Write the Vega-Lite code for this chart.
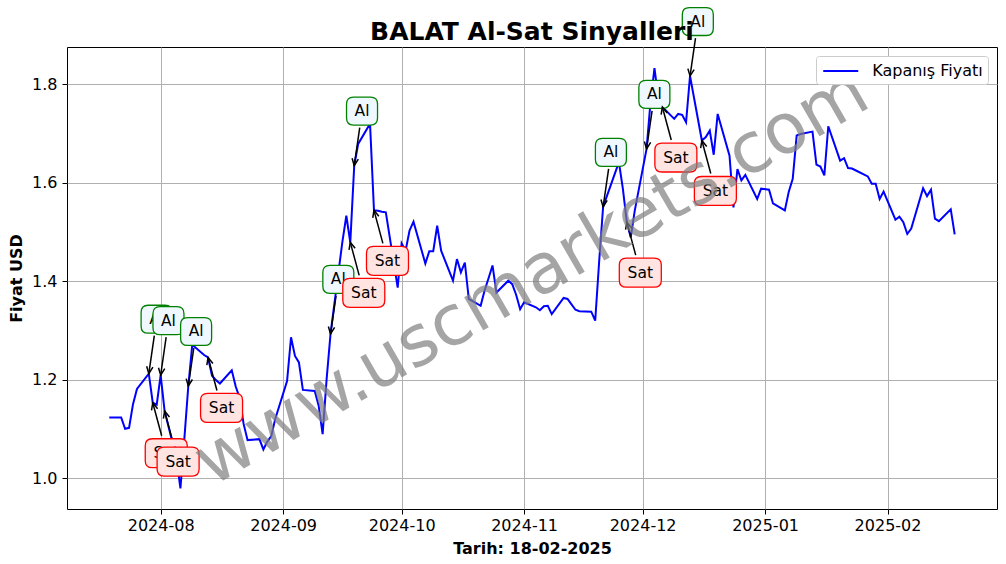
{
  "$schema": "https://vega.github.io/schema/vega-lite/v6.json",
  "width": 930,
  "height": 462,
  "autosize": {"type": "none"},
  "padding": {"left": 67, "top": 47, "right": 9, "bottom": 55},
  "background": "white",
  "title": {"text": "BALAT Al-Sat Sinyalleri", "anchor": "middle", "frame": "group", "fontSize": 25, "fontWeight": "bold", "font": "DejaVu Sans", "color": "black", "offset": -60, "baseline": "alphabetic"},
  "config": {
    "font": "DejaVu Sans",
    "view": {"stroke": "black", "strokeWidth": 1},
    "axis": {"domain": false, "grid": true, "gridColor": "#b0b0b0", "gridWidth": 1, "tickColor": "black", "tickSize": 5, "tickWidth": 1, "labelFontSize": 16, "labelColor": "black", "titleFontSize": 16, "titleFontWeight": "bold", "titleColor": "black", "labelFont": "DejaVu Sans", "titleFont": "DejaVu Sans"}
  },
  "datasets": {
    "prices": [
      {"date": "2024-07-19", "close": 1.123},
      {"date": "2024-07-22", "close": 1.123},
      {"date": "2024-07-23", "close": 1.100},
      {"date": "2024-07-24", "close": 1.102},
      {"date": "2024-07-25", "close": 1.150},
      {"date": "2024-07-26", "close": 1.181},
      {"date": "2024-07-29", "close": 1.212},
      {"date": "2024-07-30", "close": 1.153},
      {"date": "2024-07-31", "close": 1.149},
      {"date": "2024-08-01", "close": 1.209},
      {"date": "2024-08-02", "close": 1.136},
      {"date": "2024-08-05", "close": 1.040},
      {"date": "2024-08-06", "close": 0.979},
      {"date": "2024-08-07", "close": 1.080},
      {"date": "2024-08-08", "close": 1.187},
      {"date": "2024-08-09", "close": 1.271},
      {"date": "2024-08-12", "close": 1.250},
      {"date": "2024-08-13", "close": 1.245},
      {"date": "2024-08-14", "close": 1.208},
      {"date": "2024-08-15", "close": 1.199},
      {"date": "2024-08-16", "close": 1.192},
      {"date": "2024-08-19", "close": 1.219},
      {"date": "2024-08-20", "close": 1.186},
      {"date": "2024-08-21", "close": 1.163},
      {"date": "2024-08-22", "close": 1.110},
      {"date": "2024-08-23", "close": 1.077},
      {"date": "2024-08-26", "close": 1.079},
      {"date": "2024-08-27", "close": 1.058},
      {"date": "2024-08-28", "close": 1.074},
      {"date": "2024-08-29", "close": 1.085},
      {"date": "2024-08-30", "close": 1.120},
      {"date": "2024-09-02", "close": 1.197},
      {"date": "2024-09-03", "close": 1.286},
      {"date": "2024-09-04", "close": 1.248},
      {"date": "2024-09-05", "close": 1.235},
      {"date": "2024-09-06", "close": 1.179},
      {"date": "2024-09-09", "close": 1.177},
      {"date": "2024-09-10", "close": 1.147},
      {"date": "2024-09-11", "close": 1.089},
      {"date": "2024-09-12", "close": 1.200},
      {"date": "2024-09-13", "close": 1.293},
      {"date": "2024-09-16", "close": 1.480},
      {"date": "2024-09-17", "close": 1.533},
      {"date": "2024-09-18", "close": 1.479},
      {"date": "2024-09-19", "close": 1.635},
      {"date": "2024-09-20", "close": 1.679},
      {"date": "2024-09-23", "close": 1.720},
      {"date": "2024-09-24", "close": 1.544},
      {"date": "2024-09-25", "close": 1.543},
      {"date": "2024-09-26", "close": 1.541},
      {"date": "2024-09-27", "close": 1.540},
      {"date": "2024-09-30", "close": 1.387},
      {"date": "2024-10-01", "close": 1.477},
      {"date": "2024-10-02", "close": 1.462},
      {"date": "2024-10-03", "close": 1.503},
      {"date": "2024-10-04", "close": 1.521},
      {"date": "2024-10-07", "close": 1.436},
      {"date": "2024-10-08", "close": 1.461},
      {"date": "2024-10-09", "close": 1.461},
      {"date": "2024-10-10", "close": 1.513},
      {"date": "2024-10-11", "close": 1.462},
      {"date": "2024-10-14", "close": 1.401},
      {"date": "2024-10-15", "close": 1.445},
      {"date": "2024-10-16", "close": 1.418},
      {"date": "2024-10-17", "close": 1.438},
      {"date": "2024-10-18", "close": 1.364},
      {"date": "2024-10-21", "close": 1.350},
      {"date": "2024-10-22", "close": 1.381},
      {"date": "2024-10-23", "close": 1.406},
      {"date": "2024-10-24", "close": 1.432},
      {"date": "2024-10-25", "close": 1.377},
      {"date": "2024-10-28", "close": 1.401},
      {"date": "2024-10-29", "close": 1.394},
      {"date": "2024-10-30", "close": 1.372},
      {"date": "2024-10-31", "close": 1.343},
      {"date": "2024-11-01", "close": 1.357},
      {"date": "2024-11-04", "close": 1.347},
      {"date": "2024-11-05", "close": 1.341},
      {"date": "2024-11-06", "close": 1.349},
      {"date": "2024-11-07", "close": 1.350},
      {"date": "2024-11-08", "close": 1.333},
      {"date": "2024-11-11", "close": 1.366},
      {"date": "2024-11-12", "close": 1.364},
      {"date": "2024-11-13", "close": 1.353},
      {"date": "2024-11-14", "close": 1.342},
      {"date": "2024-11-15", "close": 1.339},
      {"date": "2024-11-18", "close": 1.338},
      {"date": "2024-11-19", "close": 1.320},
      {"date": "2024-11-20", "close": 1.440},
      {"date": "2024-11-21", "close": 1.551},
      {"date": "2024-11-22", "close": 1.574},
      {"date": "2024-11-25", "close": 1.642},
      {"date": "2024-11-26", "close": 1.588},
      {"date": "2024-11-27", "close": 1.520},
      {"date": "2024-11-28", "close": 1.489},
      {"date": "2024-11-29", "close": 1.543},
      {"date": "2024-12-02", "close": 1.669},
      {"date": "2024-12-03", "close": 1.764},
      {"date": "2024-12-04", "close": 1.833},
      {"date": "2024-12-05", "close": 1.771},
      {"date": "2024-12-06", "close": 1.754},
      {"date": "2024-12-09", "close": 1.730},
      {"date": "2024-12-10", "close": 1.740},
      {"date": "2024-12-11", "close": 1.738},
      {"date": "2024-12-12", "close": 1.723},
      {"date": "2024-12-13", "close": 1.817},
      {"date": "2024-12-16", "close": 1.686},
      {"date": "2024-12-17", "close": 1.693},
      {"date": "2024-12-18", "close": 1.706},
      {"date": "2024-12-19", "close": 1.657},
      {"date": "2024-12-20", "close": 1.740},
      {"date": "2024-12-23", "close": 1.655},
      {"date": "2024-12-24", "close": 1.550},
      {"date": "2024-12-25", "close": 1.628},
      {"date": "2024-12-26", "close": 1.605},
      {"date": "2024-12-27", "close": 1.616},
      {"date": "2024-12-30", "close": 1.567},
      {"date": "2024-12-31", "close": 1.588},
      {"date": "2025-01-02", "close": 1.586},
      {"date": "2025-01-03", "close": 1.558},
      {"date": "2025-01-06", "close": 1.544},
      {"date": "2025-01-07", "close": 1.582},
      {"date": "2025-01-08", "close": 1.608},
      {"date": "2025-01-09", "close": 1.696},
      {"date": "2025-01-10", "close": 1.699},
      {"date": "2025-01-13", "close": 1.704},
      {"date": "2025-01-14", "close": 1.637},
      {"date": "2025-01-15", "close": 1.633},
      {"date": "2025-01-16", "close": 1.615},
      {"date": "2025-01-17", "close": 1.715},
      {"date": "2025-01-20", "close": 1.645},
      {"date": "2025-01-21", "close": 1.650},
      {"date": "2025-01-22", "close": 1.630},
      {"date": "2025-01-23", "close": 1.629},
      {"date": "2025-01-24", "close": 1.625},
      {"date": "2025-01-27", "close": 1.613},
      {"date": "2025-01-28", "close": 1.598},
      {"date": "2025-01-29", "close": 1.598},
      {"date": "2025-01-30", "close": 1.567},
      {"date": "2025-01-31", "close": 1.582},
      {"date": "2025-02-03", "close": 1.525},
      {"date": "2025-02-04", "close": 1.531},
      {"date": "2025-02-05", "close": 1.520},
      {"date": "2025-02-06", "close": 1.496},
      {"date": "2025-02-07", "close": 1.507},
      {"date": "2025-02-10", "close": 1.589},
      {"date": "2025-02-11", "close": 1.573},
      {"date": "2025-02-12", "close": 1.586},
      {"date": "2025-02-13", "close": 1.527},
      {"date": "2025-02-14", "close": 1.522},
      {"date": "2025-02-17", "close": 1.546},
      {"date": "2025-02-18", "close": 1.495}
    ],
    "signals": [
      {"date": "2024-07-29", "close": 1.212, "signal": "Al"},
      {"date": "2024-07-30", "close": 1.153, "signal": "Sat"},
      {"date": "2024-08-01", "close": 1.209, "signal": "Al"},
      {"date": "2024-08-02", "close": 1.136, "signal": "Sat"},
      {"date": "2024-08-08", "close": 1.187, "signal": "Al"},
      {"date": "2024-08-13", "close": 1.245, "signal": "Sat"},
      {"date": "2024-09-13", "close": 1.293, "signal": "Al"},
      {"date": "2024-09-18", "close": 1.479, "signal": "Sat"},
      {"date": "2024-09-19", "close": 1.635, "signal": "Al"},
      {"date": "2024-09-24", "close": 1.544, "signal": "Sat"},
      {"date": "2024-11-21", "close": 1.551, "signal": "Al"},
      {"date": "2024-11-27", "close": 1.520, "signal": "Sat"},
      {"date": "2024-12-02", "close": 1.669, "signal": "Al"},
      {"date": "2024-12-06", "close": 1.754, "signal": "Sat"},
      {"date": "2024-12-13", "close": 1.817, "signal": "Al"},
      {"date": "2024-12-16", "close": 1.686, "signal": "Sat"}
    ],
    "watermark": [{"label": "www.uscmarkets.com"}]
  },
  "layer": [
    {
      "encoding": {
        "x": {"field": "date", "type": "temporal",
          "scale": {"type": "utc", "domain": [{"year": 2024, "month": 7, "date": 8, "hours": 7, "utc": true}, {"year": 2025, "month": 2, "date": 28, "hours": 17, "utc": true}]},
          "axis": {"title": "Tarih: 18-02-2025", "labelExpr": "utcFormat(datum.value, '%Y-%m')", "labelPadding": 3, "titlePadding": 7,
            "values": [
              {"year": 2024, "month": 8, "date": 1, "utc": true},
              {"year": 2024, "month": 9, "date": 1, "utc": true},
              {"year": 2024, "month": 10, "date": 1, "utc": true},
              {"year": 2024, "month": 11, "date": 1, "utc": true},
              {"year": 2024, "month": 12, "date": 1, "utc": true},
              {"year": 2025, "month": 1, "date": 1, "utc": true},
              {"year": 2025, "month": 2, "date": 1, "utc": true}
            ]}},
        "y": {"field": "close", "type": "quantitative",
          "scale": {"domain": [0.937, 1.876], "nice": false, "zero": false},
          "axis": {"title": "Fiyat USD", "values": [1.0, 1.2, 1.4, 1.6, 1.8], "format": ".1f", "labelPadding": 5, "titlePadding": 7}}
      },
      "layer": [
        {
          "data": {"name": "prices"},
          "mark": {"type": "line", "strokeWidth": 2},
          "encoding": {
            "color": {"datum": "Kapanış Fiyatı", "type": "nominal",
              "scale": {"range": ["blue"]},
              "legend": {"title": null, "orient": "top-right", "offset": 9, "padding": 5, "fillColor": "white", "strokeColor": "#cccccc", "cornerRadius": 3, "labelFontSize": 16, "labelColor": "black", "labelFont": "DejaVu Sans", "symbolType": "M -2 0 L 2 0", "symbolSize": 306, "symbolStrokeWidth": 2, "symbolOffset": 9.75, "labelOffset": 21.5}}
          }
        },
        {
          "data": {"name": "signals"},
          "transform": [{"filter": "datum.signal == 'Al'"}],
          "mark": {"type": "rule", "color": "black", "strokeWidth": 1.5, "x2Offset": 5.5, "y2Offset": -38},
          "encoding": {"x2": {"field": "date"}, "y2": {"field": "close"}}
        },
        {
          "data": {"name": "signals"},
          "transform": [{"filter": "datum.signal == 'Al'"}],
          "mark": {"type": "point", "shape": "M -0.45 -1 L 0 0 L 0.45 -1", "size": 196, "filled": false, "stroke": "black", "strokeWidth": 1.5, "opacity": 1, "angle": 8}
        },
        {
          "data": {"name": "signals"},
          "transform": [{"filter": "datum.signal == 'Al'"}, {"filter": {"field": "date", "lt": {"year": 2024, "month": 7, "date": 31}}}],
          "mark": {"type": "point", "shape": "M -0.55 -0.9 L 0.55 -0.9 Q 1 -0.9 1 -0.45 L 1 0.45 Q 1 0.9 0.55 0.9 L -0.55 0.9 Q -1 0.9 -1 0.45 L -1 -0.45 Q -1 -0.9 -0.55 -0.9 Z", "size": 961, "filled": true, "fill": "#f0f8ff", "stroke": "green", "strokeWidth": 1.3, "opacity": 1, "fillOpacity": 1, "xOffset": 7.8, "yOffset": -54.5}
        },
        {
          "data": {"name": "signals"},
          "transform": [{"filter": "datum.signal == 'Al'"}, {"filter": {"field": "date", "lt": {"year": 2024, "month": 7, "date": 31}}}],
          "mark": {"type": "text", "fontSize": 15.5, "color": "black", "align": "center", "baseline": "middle", "dx": 7.8, "dy": -54.5},
          "encoding": {"text": {"field": "signal"}}
        },
        {
          "data": {"name": "signals"},
          "transform": [{"filter": "datum.signal == 'Al'"}, {"filter": {"field": "date", "gte": {"year": 2024, "month": 7, "date": 31}}}],
          "mark": {"type": "point", "shape": "M -0.55 -0.9 L 0.55 -0.9 Q 1 -0.9 1 -0.45 L 1 0.45 Q 1 0.9 0.55 0.9 L -0.55 0.9 Q -1 0.9 -1 0.45 L -1 -0.45 Q -1 -0.9 -0.55 -0.9 Z", "size": 961, "filled": true, "fill": "#f0f8ff", "stroke": "green", "strokeWidth": 1.3, "opacity": 1, "fillOpacity": 1, "xOffset": 7.8, "yOffset": -54.5}
        },
        {
          "data": {"name": "signals"},
          "transform": [{"filter": "datum.signal == 'Al'"}, {"filter": {"field": "date", "gte": {"year": 2024, "month": 7, "date": 31}}}],
          "mark": {"type": "text", "fontSize": 15.5, "color": "black", "align": "center", "baseline": "middle", "dx": 7.8, "dy": -54.5},
          "encoding": {"text": {"field": "signal"}}
        },
        {
          "data": {"name": "signals"},
          "transform": [{"filter": "datum.signal == 'Sat'"}],
          "mark": {"type": "rule", "color": "black", "strokeWidth": 1.5, "x2Offset": 8.9, "y2Offset": 33},
          "encoding": {"x2": {"field": "date"}, "y2": {"field": "close"}}
        },
        {
          "data": {"name": "signals"},
          "transform": [{"filter": "datum.signal == 'Sat'"}],
          "mark": {"type": "point", "shape": "M -0.45 1 L 0 0 L 0.45 1", "size": 196, "filled": false, "stroke": "black", "strokeWidth": 1.5, "opacity": 1, "angle": -15}
        },
        {
          "data": {"name": "signals"},
          "transform": [{"filter": "datum.signal == 'Sat'"}, {"filter": {"field": "date", "lt": {"year": 2024, "month": 7, "date": 31}}}],
          "mark": {"type": "point", "shape": "M -0.667 -0.69 L 0.667 -0.69 Q 1 -0.69 1 -0.357 L 1 0.357 Q 1 0.69 0.667 0.69 L -0.667 0.69 Q -1 0.69 -1 0.357 L -1 -0.357 Q -1 -0.69 -0.667 -0.69 Z", "size": 1764, "filled": true, "fill": "#ffe4e1", "stroke": "red", "strokeWidth": 1.3, "opacity": 1, "fillOpacity": 1, "xOffset": 13.5, "yOffset": 50.5}
        },
        {
          "data": {"name": "signals"},
          "transform": [{"filter": "datum.signal == 'Sat'"}, {"filter": {"field": "date", "lt": {"year": 2024, "month": 7, "date": 31}}}],
          "mark": {"type": "text", "fontSize": 15.5, "color": "black", "align": "center", "baseline": "middle", "dx": 13.5, "dy": 50.5},
          "encoding": {"text": {"field": "signal"}}
        },
        {
          "data": {"name": "signals"},
          "transform": [{"filter": "datum.signal == 'Sat'"}, {"filter": {"field": "date", "gte": {"year": 2024, "month": 7, "date": 31}}}],
          "mark": {"type": "point", "shape": "M -0.667 -0.69 L 0.667 -0.69 Q 1 -0.69 1 -0.357 L 1 0.357 Q 1 0.69 0.667 0.69 L -0.667 0.69 Q -1 0.69 -1 0.357 L -1 -0.357 Q -1 -0.69 -0.667 -0.69 Z", "size": 1764, "filled": true, "fill": "#ffe4e1", "stroke": "red", "strokeWidth": 1.3, "opacity": 1, "fillOpacity": 1, "xOffset": 13.5, "yOffset": 50.5}
        },
        {
          "data": {"name": "signals"},
          "transform": [{"filter": "datum.signal == 'Sat'"}, {"filter": {"field": "date", "gte": {"year": 2024, "month": 7, "date": 31}}}],
          "mark": {"type": "text", "fontSize": 15.5, "color": "black", "align": "center", "baseline": "middle", "dx": 13.5, "dy": 50.5},
          "encoding": {"text": {"field": "signal"}}
        }
      ]
    },
    {
      "data": {"name": "watermark"},
      "mark": {"type": "text", "fontSize": 70, "angle": -30, "color": "gray", "opacity": 0.7, "align": "center", "baseline": "middle"},
      "encoding": {
        "x": {"value": {"expr": "width/2"}},
        "y": {"value": {"expr": "height/2"}},
        "text": {"field": "label"}
      }
    }
  ]
}
